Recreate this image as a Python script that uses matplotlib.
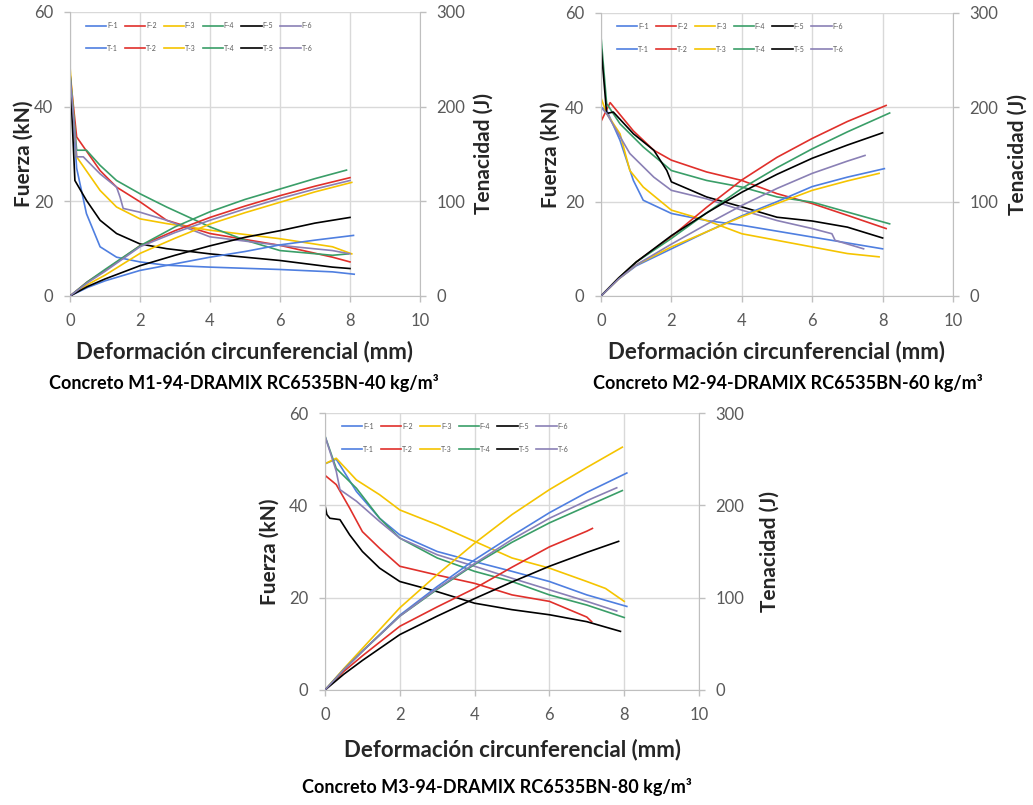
import matplotlib
matplotlib.use("Agg")
import matplotlib.pyplot as plt

plt.rcParams['font.family'] = ['Lato', 'DejaVu Sans']

# colores de las series (F-i y T-i comparten color)
colores = ['#4F7FE0', '#E0302B', '#F5C400', '#3A9E68', '#000000', '#8A80B5']
nombres = ['1', '2', '3', '4', '5', '6']

# ---------------- M1 (40 kg/m3) ----------------
# Fuerza (kN)
m1_f1_x = [0, 0, 0.19, 0.47, 0.86, 1.33, 2.0, 2.76, 4.0, 6.0, 7.5, 8.12]
m1_f1_y = [0, 47, 27, 17.4, 10.4, 8.2, 7.2, 6.5, 6.1, 5.6, 5.1, 4.6]
m1_f2_x = [0, 0, 0.19, 0.86, 1.33, 2.0, 2.76, 4.0, 6.0, 7.5, 8.0]
m1_f2_y = [0, 47, 33.6, 26.5, 23, 19.9, 16, 13.2, 10.7, 8.2, 7.2]
m1_f3_x = [0, 0, 0.19, 0.86, 1.33, 2.0, 2.76, 4.0, 6.0, 7.5, 8.05]
m1_f3_y = [0, 48.5, 29.4, 22.3, 18.8, 16.3, 15.3, 13.9, 12.1, 10.4, 8.9]
m1_f4_x = [0, 0, 0.19, 0.47, 0.86, 1.33, 2.0, 2.76, 4.0, 5.0, 6.0, 7.5, 7.95]
m1_f4_y = [0, 47, 30.8, 30.8, 27.6, 24.4, 21.6, 18.8, 14.6, 11.8, 9.6, 8.6, 8.9]
m1_f5_x = [0, 0, 0.14, 0.47, 0.86, 1.33, 2.0, 2.76, 4.0, 6.0, 7.5, 8.0]
m1_f5_y = [0, 47, 24.4, 20.2, 16, 13.2, 11, 10, 8.9, 7.5, 6.1, 5.8]
m1_f6_x = [0, 0, 0.19, 0.38, 0.86, 1.33, 1.43, 1.52, 2.0, 2.76, 4.0, 6.0, 7.5, 8.0]
m1_f6_y = [0, 47, 29.4, 29.4, 25.8, 23, 20.9, 18.5, 17.7, 16, 12.5, 10.7, 9.6, 8.9]
# Tenacidad (J)
m1_t1_x = [0, 0.5, 1, 2, 3, 4, 5, 6, 7, 8.1]
m1_t1_y = [0, 9, 16, 27, 34, 41, 47, 54, 59, 64]
m1_t2_x = [0, 0.5, 1, 2, 3, 4, 5, 6, 7, 8.0]
m1_t2_y = [0, 15, 27, 53, 69, 83, 95, 106, 116, 125]
m1_t3_x = [0, 0.5, 1, 2, 3, 4, 5, 6, 7, 8.05]
m1_t3_y = [0, 12, 22, 45, 61, 76, 88, 99, 110, 120]
m1_t4_x = [0, 0.5, 1, 2, 3, 4, 5, 6, 7, 7.9]
m1_t4_y = [0, 15, 28, 53, 73, 89, 102, 113, 124, 133]
m1_t5_x = [0, 0.5, 1, 2, 3, 4, 5, 6, 7, 8.0]
m1_t5_y = [0, 10, 18, 32, 43, 53, 62, 69, 77, 83]
m1_t6_x = [0, 0.5, 1, 2, 3, 4, 5, 6, 7, 8.0]
m1_t6_y = [0, 14, 26, 52, 67, 80, 92, 103, 113, 122]

# ---------------- M2 (60 kg/m3) ----------------
m2_f1_x = [0, 0, 0.16, 0.54, 0.92, 1.2, 2, 3, 4, 6, 8.0]
m2_f1_y = [0, 40, 39.4, 33, 24.5, 20.3, 17.5, 16, 15, 12.5, 10]
m2_f2_x = [0, 0, 0.26, 0.92, 1.5, 2, 3, 4, 5, 6, 7, 8.1]
m2_f2_y = [0, 37, 41, 35, 30.9, 28.8, 26.3, 24.5, 21.7, 19.6, 17.1, 14.3]
m2_f3_x = [0, 0, 0.16, 0.54, 0.82, 1.2, 2, 3, 4, 5, 6, 7, 7.9]
m2_f3_y = [0, 42, 38.7, 34.4, 26.6, 23.1, 18.2, 16, 13.2, 11.8, 10.4, 9, 8.3]
m2_f4_x = [0, 0, 0.16, 0.54, 1.2, 2, 3, 4, 5, 6, 7, 8.2]
m2_f4_y = [0, 55, 40.8, 36.5, 31.6, 26.6, 24.5, 23.1, 21, 19.9, 17.8, 15.3]
m2_f5_x = [0, 0, 0.16, 0.35, 0.92, 1.5, 1.87, 2, 3, 4, 5, 6, 7, 8.0]
m2_f5_y = [0, 53, 38.7, 39, 34.4, 30.9, 26.6, 24.2, 21, 18.9, 16.7, 15.9, 14.6, 12.3]
m2_f6_x = [0, 0, 0.16, 0.82, 1.5, 2, 3, 4, 5, 6, 6.56, 6.65, 7.46]
m2_f6_y = [0, 40, 38.7, 30.2, 25.2, 22.4, 20.6, 18.2, 16, 14.3, 13.2, 11.8, 10]
m2_t1_x = [0, 0.5, 1, 2, 3, 4, 5, 6, 7, 8.05]
m2_t1_y = [0, 18, 32, 50, 68, 85, 100, 116, 126, 135]
m2_t2_x = [0, 0.5, 1, 2, 3, 4, 5, 6, 7, 8.1]
m2_t2_y = [0, 19, 36, 63, 94, 123, 147, 167, 185, 202]
m2_t3_x = [0, 0.5, 1, 2, 3, 4, 5, 6, 7, 7.9]
m2_t3_y = [0, 18, 33, 52, 68, 84, 98, 112, 122, 130]
m2_t4_x = [0, 0.5, 1, 2, 3, 4, 5, 6, 7, 8.2]
m2_t4_y = [0, 19, 36, 61, 88, 114, 136, 156, 174, 194]
m2_t5_x = [0, 0.5, 1, 2, 3, 4, 5, 6, 7, 8.0]
m2_t5_y = [0, 19, 36, 64, 88, 110, 129, 146, 160, 173]
m2_t6_x = [0, 0.5, 1, 2, 3, 4, 5, 6, 7, 7.5]
m2_t6_y = [0, 18, 33, 55, 76, 96, 114, 130, 143, 149]

# ---------------- M3 (80 kg/m3) ----------------
m3_f1_x = [0, 0, 0.3, 0.84, 1.46, 2, 3, 4, 5, 6, 7, 8.07]
m3_f1_y = [0, 49, 50, 43, 37.2, 33.6, 30, 27.8, 25.7, 23.5, 20.6, 18.1]
m3_f2_x = [0, 0, 0.3, 0.66, 1.0, 1.46, 2, 3, 4, 5, 6, 7, 7.13]
m3_f2_y = [0, 46.5, 44.5, 39.4, 34.3, 30.7, 26.8, 24.9, 23.1, 20.6, 19.2, 15.8, 14.8]
m3_f3_x = [0, 0, 0.3, 0.84, 1.46, 2, 3, 4, 5, 6, 7, 7.5, 8.0]
m3_f3_y = [0, 49, 50.2, 45.5, 42.3, 39, 35.8, 32.2, 28.6, 26.4, 23.5, 22, 19.2]
m3_f4_x = [0, 0, 0.3, 0.84, 1.46, 2, 3, 4, 5, 6, 7, 8.0]
m3_f4_y = [0, 55, 48, 43.7, 37.2, 32.9, 28.6, 25.7, 23.5, 20.6, 18.4, 15.7]
m3_f5_x = [0, 0, 0.05, 0.13, 0.4, 0.66, 1.0, 1.46, 2, 3, 4, 5, 6, 7, 7.9]
m3_f5_y = [0, 40, 38, 37.2, 36.9, 33.6, 30, 26.4, 23.5, 21.3, 18.8, 17.4, 16.3, 14.8, 12.7]
m3_f6_x = [0, 0, 0.3, 0.4, 0.84, 1.46, 2, 3, 4, 5, 6, 7, 7.8]
m3_f6_y = [0, 55, 47.4, 43.4, 40.9, 36.5, 32.9, 29.3, 26.8, 24.2, 21.7, 19.2, 17.1]
m3_t1_x = [0, 0.5, 1, 2, 3, 4, 5, 6, 7, 8.07]
m3_t1_y = [0, 22, 42, 81, 112, 141, 167, 192, 214, 235]
m3_t2_x = [0, 0.5, 1, 2, 3, 4, 5, 6, 7, 7.15]
m3_t2_y = [0, 20, 37, 69, 90, 110, 133, 155, 172, 175]
m3_t3_x = [0, 0.5, 1, 2, 3, 4, 5, 6, 7, 7.95]
m3_t3_y = [0, 23, 45, 89, 125, 159, 190, 217, 241, 263]
m3_t4_x = [0, 0.5, 1, 2, 3, 4, 5, 6, 7, 7.95]
m3_t4_y = [0, 22, 42, 80, 109, 136, 160, 181, 199, 216]
m3_t5_x = [0, 0.5, 1, 2, 3, 4, 5, 6, 7, 7.85]
m3_t5_y = [0, 17, 32, 60, 80, 99, 117, 134, 149, 161]
m3_t6_x = [0, 0.5, 1, 2, 3, 4, 5, 6, 7, 7.8]
m3_t6_y = [0, 22, 42, 80, 110, 137, 163, 186, 205, 219]

titulos = ['Concreto M1-94-DRAMIX RC6535BN-40 kg/m\u00b3',
           'Concreto M2-94-DRAMIX RC6535BN-60 kg/m\u00b3',
           'Concreto M3-94-DRAMIX RC6535BN-80 kg/m\u00b3']

paneles = [
    ([(m1_f1_x, m1_f1_y), (m1_f2_x, m1_f2_y), (m1_f3_x, m1_f3_y),
      (m1_f4_x, m1_f4_y), (m1_f5_x, m1_f5_y), (m1_f6_x, m1_f6_y)],
     [(m1_t1_x, m1_t1_y), (m1_t2_x, m1_t2_y), (m1_t3_x, m1_t3_y),
      (m1_t4_x, m1_t4_y), (m1_t5_x, m1_t5_y), (m1_t6_x, m1_t6_y)]),
    ([(m2_f1_x, m2_f1_y), (m2_f2_x, m2_f2_y), (m2_f3_x, m2_f3_y),
      (m2_f4_x, m2_f4_y), (m2_f5_x, m2_f5_y), (m2_f6_x, m2_f6_y)],
     [(m2_t1_x, m2_t1_y), (m2_t2_x, m2_t2_y), (m2_t3_x, m2_t3_y),
      (m2_t4_x, m2_t4_y), (m2_t5_x, m2_t5_y), (m2_t6_x, m2_t6_y)]),
    ([(m3_f1_x, m3_f1_y), (m3_f2_x, m3_f2_y), (m3_f3_x, m3_f3_y),
      (m3_f4_x, m3_f4_y), (m3_f5_x, m3_f5_y), (m3_f6_x, m3_f6_y)],
     [(m3_t1_x, m3_t1_y), (m3_t2_x, m3_t2_y), (m3_t3_x, m3_t3_y),
      (m3_t4_x, m3_t4_y), (m3_t5_x, m3_t5_y), (m3_t6_x, m3_t6_y)]),
]

W, H = 1033, 805
# cajas de los ejes en pixeles: (izq, arriba, der, abajo)
cajas = [(70, 12, 420, 296), (601, 13, 953, 296), (325, 413, 699, 690)]
pos_flab = [24, 551, 270]     # centro x de "Fuerza (kN)"
pos_tlab = [484, 1018, 770]   # centro x de "Tenacidad (J)"
pos_titulo = [(244, 383), (788, 383), (497, 787)]
pos_xlab = [352, 352, 750]

gris_eje = '#BFBFBF'
gris_txt = '#595959'

fig = plt.figure(figsize=(W / 100, H / 100), dpi=100)

for k, (fuerzas, tenacidades) in enumerate(paneles):
    x0, y0, x1, y1 = cajas[k]
    ax = fig.add_axes([x0 / W, 1 - y1 / H, (x1 - x0) / W, (y1 - y0) / H])
    ax2 = ax.twinx()

    hs = []
    for i, (xs, ys) in enumerate(fuerzas):
        h, = ax.plot(xs, ys, color=colores[i], lw=1.2, label='F-' + nombres[i])
        hs.append(h)
    ht = []
    for i, (xs, ys) in enumerate(tenacidades):
        h, = ax2.plot(xs, ys, color=colores[i], lw=1.2, label='T-' + nombres[i])
        ht.append(h)

    ax.set_xlim(0, 10)
    ax.set_ylim(0, 60)
    ax2.set_ylim(0, 300)
    ax.set_xticks([0, 2, 4, 6, 8, 10])
    ax.set_yticks([0, 20, 40, 60])
    ax2.set_yticks([0, 100, 200, 300])
    ax.grid(True, color='#D9D9D9', lw=1.0)
    ax.set_axisbelow(True)

    for a in (ax, ax2):
        for s in a.spines.values():
            s.set_visible(False)
        a.tick_params(colors=gris_txt, labelsize=12, length=4, width=1,
                      color=gris_eje)
    ax.spines['left'].set_visible(True)
    ax.spines['left'].set_color(gris_eje)
    ax.spines['bottom'].set_visible(True)
    ax.spines['bottom'].set_color(gris_eje)
    ax2.spines['right'].set_visible(True)
    ax2.spines['right'].set_color(gris_eje)
    ax.tick_params(axis='y', pad=8)
    ax.tick_params(axis='x', pad=8)
    ax2.tick_params(axis='y', pad=8)

    yc = 1 - (y0 + y1) / 2 / H
    fig.text(pos_flab[k] / W, yc, 'Fuerza (kN)', rotation=90, ha='center',
             va='center', fontsize=15, fontweight='bold', color='#262626')
    fig.text(pos_tlab[k] / W, yc, 'Tenacidad (J)', rotation=90, ha='center',
             va='center', fontsize=15, fontweight='bold', color='#262626')
    fig.text((x0 + x1) / 2 / W, 1 - pos_xlab[k] / H,
             'Deformación circunferencial (mm)', ha='center', va='center',
             fontsize=16, fontweight='bold', color='#262626')
    fig.text(pos_titulo[k][0] / W, 1 - pos_titulo[k][1] / H, titulos[k],
             ha='center', va='center', fontsize=13, fontweight='bold',
             color='black')

    # leyenda: fila F arriba, fila T abajo
    orden = []
    for i in range(6):
        orden += [hs[i], ht[i]]
    ax2.legend(orden, [h.get_label() for h in orden], ncol=6,
               loc='upper left', bbox_to_anchor=(0.045, 0.965),
               frameon=False, fontsize=5, handlelength=2.9,
               handletextpad=0.15, columnspacing=1.0, labelspacing=2.3,
               borderpad=0, borderaxespad=0, labelcolor='#595959')

fig.savefig('out.png', dpi=100)
